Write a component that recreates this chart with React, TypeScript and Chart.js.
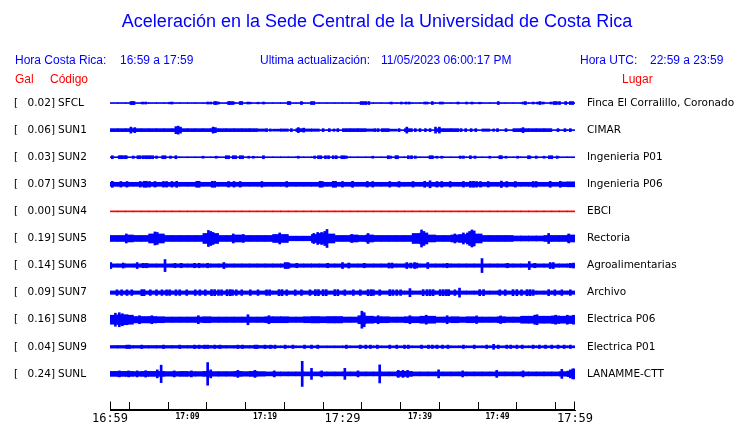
import React, { useEffect, useRef } from "react";
import { Chart, registerables } from "chart.js";
Chart.register(...registerables);

const TITLE = "Aceleración en la Sede Central de la Universidad de Costa Rica";
const HORA_CR = ["Hora Costa Rica:", "16:59 a 17:59"];
const ACTUALIZ = ["Ultima actualización:", "11/05/2023 06:00:17 PM"];
const HORA_UTC = ["Hora UTC:", "22:59 a 23:59"];
const COL_HEADS = ["Gal", "Código", "Lugar"];

const CODES = ["SFCL", "SUN1", "SUN2", "SUN3", "SUN4", "SUN5", "SUN6", "SUN7", "SUN8", "SUN9", "SUNL"];
const GAL = [0.02, 0.06, 0.03, 0.07, 0.0, 0.19, 0.14, 0.09, 0.16, 0.04, 0.24];
const PLACES = [
  "Finca El Corralillo, Coronado", "CIMAR", "Ingenieria P01", "Ingenieria P06", "EBCI",
  "Rectoria", "Agroalimentarias", "Archivo", "Electrica P06", "Electrica P01", "LANAMME-CTT",
];
const TRACE_COLORS = ["#0000ff", "#0000ff", "#0000ff", "#0000ff", "#ff0000", "#0000ff", "#0000ff", "#0000ff", "#0000ff", "#0000ff", "#0000ff"];

// time axis (minutes after 16:59)
const TIME_TICKS = [0, 5, 10, 15, 20, 25, 30, 35, 40, 45, 50, 55, 60];
const TIME_LABELS: Record<number, string> = { 0: "16:59", 10: "17:09", 20: "17:19", 30: "17:29", 40: "17:39", 50: "17:49", 60: "17:59" };
const BIG_LABELS = [0, 30, 60];

// per-minute envelope half-amplitudes (trace units) and isolated peaks [minute, half-amplitude]
const SFCL_ENV = [0.5,0.5,0.5,0.5,0.5,0.5,0.5,0.5,0.5,0.5,0.5,0.5,0.5,0.5,0.5,0.5,0.5,0.5,0.5,0.5,0.5,0.5,0.5,0.5,0.5,0.5,0.5,0.5,0.5,0.5,0.5,0.5,0.5,0.5,0.5,0.5,0.5,0.5,0.5,0.5,0.5,0.5,0.5,0.5,0.5,0.5,0.5,0.5,0.5,0.5,0.5,0.5,0.5,0.5,0.5,0.5,0.5,0.5,0.5,0.5];
const SFCL_PK = [[2.7,1.5],[2.9,1.5],[3.1,1.5],[4.2,1],[4.6,1],[7.7,0.8],[8.0,1],[12.6,1],[13.0,1],[13.5,1.5],[13.7,1.5],[14.0,1],[15.3,1.5],[15.5,1.5],[15.8,1.5],[16.0,1],[16.8,1.5],[17.0,1.5],[17.8,1],[18.1,0.8],[19.1,0.8],[19.8,1],[23.0,1.5],[23.2,1.5],[24.7,1.5],[26.0,1.5],[26.3,1.5],[32.4,1.5],[32.7,1.5],[33.0,1.5],[33.4,1.5],[36.3,1],[37.6,1],[38.2,1],[38.6,1],[40.6,1],[40.9,1],[41.6,1.5],[42.6,1],[42.9,1],[44.9,1],[46.0,1],[46.7,1],[47.7,0.8],[50.1,1.5],[53.3,1],[53.6,1.5],[54.6,1],[55.2,1],[55.5,1.5],[55.9,1],[56.9,1],[57.3,1.5],[57.6,1.5],[58.0,1.5],[58.8,1.5],[59.4,1.5],[59.7,1.5]];

const SUN1_ENV = [1.5,1.5,1.5,1.5,1.5,1.5,1.5,1.5,1.5,1.5,1.5,1.5,1.5,1.5,1.5,1.5,1.5,1.5,1.5,1.2,0.5,1,1.2,0.5,1.5,1.2,1.2,0.5,0.5,0.5,1.5,1.5,1.5,1.2,0.5,1.5,1,0.5,1.5,0.5,0.5,0.5,1.5,1.5,1.5,0.5,0.5,0.5,1.2,0.5,0.5,0.5,1.5,1.5,1.5,1.5,1.5,0.5,0.5,0.5];
const SUN1_PK = [[2.7,3],[3.2,2.5],[8.5,3.5],[8.8,4],[9.1,3],[13.3,3],[13.6,2.5],[20.2,1.5],[20.7,1.2],[23.4,1.5],[24.3,2.5],[25.0,2],[27.5,1.5],[28.3,1.5],[28.9,1.2],[29.4,1.5],[34.2,1.5],[34.6,1.5],[37.3,1.5],[38.3,3],[39.4,1.5],[40.0,1.5],[40.7,1.5],[41.3,1.5],[42.0,3],[42.5,3],[45.3,1.5],[45.9,1.5],[46.6,1.5],[47.2,1.5],[49.5,1.2],[50.0,1.5],[51.1,1.5],[53.3,2.5],[57.8,1.5],[58.7,1.5],[59.4,1.5]];

const SUN2_ENV = [0.5,0.5,0.5,0.5,0.5,0.5,0.5,0.5,0.5,0.5,0.5,0.5,0.5,0.5,0.5,0.5,0.5,0.5,0.5,0.5,0.5,0.5,0.5,0.5,0.5,0.5,0.5,0.5,0.5,0.5,0.5,0.5,0.5,0.5,0.5,0.5,0.5,0.5,0.5,0.5,0.5,0.5,0.5,0.5,0.5,0.5,0.5,0.5,0.5,0.5,0.5,0.5,0.5,0.5,0.5,0.5,0.5,0.5,0.5,0.5];
const SUN2_PK = [[0.3,1.5],[1.2,1.5],[1.4,1.5],[1.6,1.5],[1.9,1.5],[2.1,1.5],[3.0,1.2],[3.6,1.5],[3.9,1.5],[4.3,1.5],[4.6,1.5],[4.9,1.5],[5.2,1.5],[5.5,1.5],[6.0,1.2],[6.8,1.5],[7.1,1.5],[7.8,1.2],[8.5,1.5],[12.0,1],[13.7,1],[15.0,1.5],[15.3,1.5],[15.9,1.5],[16.2,1.5],[16.8,1.5],[17.1,1.5],[17.9,1],[18.5,1],[19.8,1.5],[24.3,1],[26.4,1.2],[26.9,1.5],[27.2,1.5],[27.8,1.5],[28.2,1.5],[28.8,1.5],[29.2,1.5],[29.9,1.5],[30.2,1.5],[30.5,1.2],[33.9,1],[35.9,1.5],[36.2,1.2],[36.9,1.5],[37.1,1.5],[38.5,1.5],[38.9,1.5],[39.4,1.2],[41.3,1.5],[41.6,1.5],[42.2,1],[42.8,1],[45.2,1.2],[45.6,1.2],[46.5,1.5],[47.1,1.2],[49.0,1],[50.3,1.5],[50.5,1.5],[51.1,1],[52.6,1],[54.0,1.5],[54.2,1.2],[55.0,1.2],[56.0,1],[56.7,1.5],[57.0,1.5],[57.7,1.2]];

const SUN3_ENV = [2,2,2,2,2,2,2,2,2,2,2,2,2,2,2,2,2,2,2,2,2,2,2,2,2,2,2,2,2,2,2,2,2,2,2,2,2,2,2,2,2,2,2,2,2,2,2,2,2,2,2,2,2,2,2,2,2,2,2.3,2.5];
const SUN3_PK = [[0.3,3],[1.4,2.8],[2.2,2.8],[3.9,2.8],[4.4,3],[4.7,3],[5.1,2.8],[5.8,2.8],[6.9,2.8],[7.3,2.8],[8.0,2.8],[8.6,3],[11.2,3],[11.5,3],[13.2,3],[13.5,3],[15.3,2.8],[16.0,2.8],[16.8,2.8],[19.6,2.8],[22.8,2.8],[27.1,3],[27.4,2.8],[28.8,3],[29.1,3],[30.0,2.8],[31.3,3],[33.2,2.8],[33.9,2.8],[36.1,2.8],[37.3,2.8],[39.1,2.8],[40.6,3],[41.3,3.5],[42.2,2.8],[42.8,2.8],[43.9,2.8],[45.6,2.8],[46.5,3],[46.9,3],[47.3,2.8],[47.8,2.8],[48.8,2.8],[50.5,3.2],[51.2,2.8],[52.3,2.8],[54.6,2.8],[55.0,2.8],[56.8,3],[58.1,3]];

const SUN4_ENV = [0.5,0.5,0.5,0.5,0.5,0.5,0.5,0.5,0.5,0.5,0.5,0.5,0.5,0.5,0.5,0.5,0.5,0.5,0.5,0.5,0.5,0.5,0.5,0.5,0.5,0.5,0.5,0.5,0.5,0.5,0.5,0.5,0.5,0.5,0.5,0.5,0.5,0.5,0.5,0.5,0.5,0.5,0.5,0.5,0.5,0.5,0.5,0.5,0.5,0.5,0.5,0.5,0.5,0.5,0.5,0.5,0.5,0.5,0.5,0.5];
const SUN4_PK: number[][] = [];

const SUN5_ENV = [3,3,3.5,3,3,4.5,4.5,3,3,3,3,3,5,5,3,3,3.5,3,3,3,3,4,4,2.3,2.3,2.3,4,5,4.5,3,3,3.5,3,3.5,3,3,3,3,3,5,5.5,3.5,3,3,3.5,4,5.5,4.5,3,3,3,3,2.5,2.5,2.5,2.5,3,3,3,3.5];
const SUN5_PK = [[2.1,4.5],[5.8,6.5],[6.1,6],[12.7,8],[13.0,7],[13.3,6],[15.9,4.5],[17.2,4],[21.9,5.5],[26.3,5],[26.8,6],[27.3,6],[27.7,7],[28.0,9],[31.2,4],[33.3,5],[40.2,8.5],[40.5,7],[44.5,4.5],[45.6,5.5],[46.4,7],[46.7,8.5],[47.0,7.5],[56.6,5],[59.2,4.5]];

const SUN6_ENV = [1.7,1.7,1.7,1.7,1.7,1.7,1.7,1.7,1.7,1.7,1.7,1.7,1.7,1.7,1.7,1.7,1.7,1.7,1.7,1.7,1.7,1.7,1.7,1.7,1.7,1.7,1.7,1.7,1.7,1.7,1.7,1.7,1.7,1.7,1.7,1.7,1.7,1.7,1.7,1.7,1.7,1.7,1.7,1.7,1.7,1.7,1.7,1.7,1.7,1.7,1.7,1.7,1.7,1.7,1.7,1.7,1.7,1.7,1.7,1.7];
const SUN6_PK = [[0.1,3],[1.7,2.5],[3.5,3],[4.3,2.2],[4.7,2.2],[7.1,6],[8.4,2.2],[9.2,2.2],[10.9,2.2],[11.5,2.2],[12.6,2.2],[14.7,3],[22.6,3],[22.9,3],[23.1,2.5],[24.1,2.2],[28.1,2.2],[30.0,3],[30.8,2.5],[32.8,2.2],[36.0,2.5],[36.4,2.5],[38.3,3],[38.8,2.5],[39.3,3],[39.6,2.5],[41.0,3],[43.5,2.2],[48.0,7],[51.3,2.2],[54.1,4],[54.8,2.2],[56.8,3],[57.2,3],[59.4,2.2],[59.8,2.5]];

const SUN7_ENV = [1.7,1.7,1.7,1.7,1.7,1.7,1.7,1.7,1.7,1.7,1.7,1.7,1.7,1.7,1.7,1.7,1.7,1.7,1.7,1.7,1.7,1.7,1.7,1.7,1.7,1.7,1.7,1.7,1.7,1.7,1.7,1.7,1.7,1.7,1.7,1.7,1.7,1.7,1.7,1.7,1.7,1.7,1.7,1.7,1.7,1.7,1.7,1.7,1.7,1.7,1.7,1.7,1.7,1.7,1.7,1.7,1.7,1.7,1.7,1.7];
const SUN7_PK = [[0.9,2.8],[1.5,2.8],[2.2,2.8],[2.8,2.8],[4.1,3],[4.4,3],[5.2,2.8],[6.0,2.8],[6.7,2.8],[7.3,2.8],[7.7,2.8],[8.5,2.8],[9.0,2.8],[9.9,2.8],[11.0,2.8],[11.6,2.8],[12.3,2.8],[13.1,3],[13.5,3],[14.0,2.8],[14.4,2.8],[15.1,3],[15.5,3],[15.8,2.8],[16.3,2.8],[17.0,2.8],[18.1,2.8],[19.1,2.8],[20.2,2.8],[20.6,2.8],[21.8,3],[22.2,3],[22.8,2.8],[23.9,2.8],[24.7,2.8],[25.8,2.8],[26.5,3],[26.9,3],[27.5,3],[27.9,3],[29.0,3],[29.4,3],[30.3,2.8],[31.4,2.8],[32.3,2.8],[33.3,3],[33.7,3],[34.0,2.8],[34.8,2.8],[36.1,3],[36.5,2.8],[37.0,2.8],[37.5,2.8],[38.7,4],[40.4,3],[40.9,3],[41.3,3],[41.7,3],[42.6,3],[43.0,3],[43.4,3],[43.7,3],[44.5,2.8],[45.1,4.5],[47.7,3],[48.2,3],[50.3,2.8],[51.0,2.8],[52.0,3],[52.5,3],[53.1,2.8],[53.8,3],[54.2,3],[54.6,2.8],[56.6,3],[57.4,2.8],[58.3,2.8],[59.4,2.8]];

const SUN8_ENV = [4.5,5,4.5,3.2,3.2,3.2,3,2.7,2.7,2.7,2.7,2.7,3,2.7,2.7,2.7,2.7,2.7,2.7,2.7,3,3,3,2.7,2.7,3,3.2,3,3.2,3.2,2.7,2.7,4,3.5,3,3,2.7,2.7,3,3,3.5,3.5,2.7,2.7,3,2.7,3,2.7,2.7,2.7,3,2.7,2.7,3.5,3.5,3.5,3.5,3.8,3.5,3.8];
const SUN8_PK = [[0.7,6.5],[1.2,7],[1.6,6],[2.2,5],[3.8,4],[5.4,4],[11.4,4],[17.8,5],[20.5,4],[32.5,8.5],[32.8,7],[34.6,4],[38.7,4],[40.8,4.5],[43.5,4],[47.3,3.8],[50.4,3.8],[54.8,4.5],[55.1,5],[57.5,4.5],[59.0,4.5],[59.8,4.5]];

const SUN9_ENV = [1.3,1.3,1.3,1.3,1.3,1.3,1.3,1.3,1.3,1.3,1.3,1.3,1.3,1.3,1.3,1.3,1.3,1.3,1.3,1.3,1.3,1,1,1,1,1,1,1,1,1,1,1,1,1,1,1,1,1,1,1,1,1,1,1,1,1,1,1,1,1,1,1,1,1,1,1,1,1,1,1];
const SUN9_PK = [[2.2,1.7],[2.5,1.7],[4.1,1.7],[6.9,1.7],[9.0,1.7],[10.9,1.7],[11.5,1.7],[12.2,1.7],[12.6,1.7],[13.5,1.7],[14.2,1.7],[16.5,1.7],[17.1,1.7],[18.7,1.7],[19.0,1.7],[20.0,1.7],[20.7,1.7],[21.3,1.7],[22.6,1.7],[23.6,1.7],[25.1,1.7],[26.0,1.7],[26.8,1.7],[30.5,1.7],[32.3,1.7],[33.0,1.7],[33.6,1.7],[34.5,1.7],[36.1,1.7],[37.0,1.7],[38.0,1.7],[38.5,1.7],[40.2,1.7],[41.1,1.7],[41.6,1.7],[42.2,1.7],[42.9,1.7],[43.6,1.7],[45.6,1.7],[47.0,1.7],[48.6,1.7],[49.5,2.5],[50.1,1.7],[51.2,1.7],[51.7,1.7],[52.5,1.7],[53.2,1.7],[54.6,1.7],[55.4,1.7],[56.2,1.7],[57.0,1.7],[57.8,1.7],[58.6,1.7],[59.4,1.7]];

const SUNL_ENV = [2.5,2.5,2.5,2.3,2.5,2.5,2.5,2.3,2.3,2.5,2.3,2.3,2.5,2.3,2.3,2.3,2.5,2.3,2.5,2.3,2,2,2,2,2,2,2,2,2,2,2,2,2,2,2,2,2,2.5,2.5,2,2,2,2,2,2,2,2,2,2,2,2,2,2,2,2,2,2,2,2.3,2.8];
const SUNL_PK = [[1.2,3],[2.4,3],[3.5,3],[4.6,3.2],[6.1,4],[6.6,8.7],[8.3,3],[10.5,3],[12.6,11.3],[13.0,4],[16.5,3.5],[18.7,3.5],[21.2,3],[24.8,12.5],[26.0,5.5],[27.3,3],[30.3,5.5],[32.0,3],[34.8,9],[37.2,3.5],[37.8,3.5],[38.4,3.5],[42.4,4],[45.5,3],[49.9,3.5],[53.3,3],[58.3,4.5],[59.4,4],[59.7,5],[59.9,5]];

const ENVELOPES = [SFCL_ENV, SUN1_ENV, SUN2_ENV, SUN3_ENV, SUN4_ENV, SUN5_ENV, SUN6_ENV, SUN7_ENV, SUN8_ENV, SUN9_ENV, SUNL_ENV];
const PEAKS = [SFCL_PK, SUN1_PK, SUN2_PK, SUN3_PK, SUN4_PK, SUN5_PK, SUN6_PK, SUN7_PK, SUN8_PK, SUN9_PK, SUNL_PK];

const AMP_UNIT = 1 / 27; // one trace unit as a fraction of the station spacing
const Y_MIN = -0.3333;
const Y_MAX = 11.4815;

const SANS = "'Liberation Sans', Arial, sans-serif";
const DJV = "'DejaVu Sans', sans-serif";
const MONO = "'DejaVu Sans Mono', monospace";

const textPlugin = {
  id: "seismoText",
  afterDraw(chart: any) {
    const ctx = chart.ctx as CanvasRenderingContext2D;
    const y = chart.scales.y;
    const x = chart.scales.x;
    ctx.save();
    // time axis base line and the two end ticks
    const by = Math.round(chart.chartArea.bottom) - 0.5;
    const x0 = Math.round(x.getPixelForValue(0)) + 0.5;
    const x1 = Math.round(x.getPixelForValue(60)) - 0.5;
    ctx.strokeStyle = "#000000";
    ctx.lineWidth = 1;
    ctx.beginPath();
    ctx.moveTo(x0 - 0.5, by);
    ctx.lineTo(x1 + 0.5, by);
    ctx.moveTo(x0, by);
    ctx.lineTo(x0, by - 8);
    ctx.moveTo(x1, by);
    ctx.lineTo(x1, by - 8);
    ctx.stroke();

    ctx.textBaseline = "middle";
    ctx.fillStyle = "#0000ff";
    ctx.font = `18px ${SANS}`;
    ctx.textAlign = "center";
    ctx.fillText(TITLE, 377, 22);
    ctx.textAlign = "left";
    ctx.font = `12px ${SANS}`;
    ctx.fillText(HORA_CR[0], 15, 61);
    ctx.fillText(HORA_CR[1], 120, 61);
    ctx.fillText(ACTUALIZ[0], 260, 61);
    ctx.fillText(ACTUALIZ[1], 381, 61);
    ctx.fillText(HORA_UTC[0], 580, 61);
    ctx.fillText(HORA_UTC[1], 650, 61);
    ctx.fillStyle = "#ff0000";
    ctx.fillText(COL_HEADS[0], 15, 80);
    ctx.fillText(COL_HEADS[1], 50, 80);
    ctx.fillText(COL_HEADS[2], 622, 80);
    ctx.fillStyle = "#000000";
    ctx.font = `10.5px ${DJV}`;
    CODES.forEach((code, k) => {
      const py = y.getPixelForValue(11 - k);
      ctx.textAlign = "left";
      ctx.fillText("[", 14, py);
      ctx.textAlign = "right";
      ctx.fillText(GAL[k].toFixed(2) + "]", 55, py);
      ctx.textAlign = "left";
      ctx.fillText(code, 58, py);
      ctx.fillText(PLACES[k], 587, py);
    });
    ctx.restore();
  },
};

export default function App() {
  const ref = useRef<HTMLCanvasElement>(null);
  useEffect(() => {
    document.body.style.margin = "0";
    const datasets: any[] = [];
    CODES.forEach((code, k) => {
      const c = 11 - k;
      datasets.push({
        label: code,
        stack: "all",
        data: ENVELOPES[k].map((a, i) => ({ x: i + 0.5, y: [c - a * AMP_UNIT, c + a * AMP_UNIT] })),
        backgroundColor: TRACE_COLORS[k],
        barThickness: 8,
      });
      datasets.push({
        label: code + " picos",
        stack: "all",
        data: PEAKS[k].map(([m, a]) => ({ x: m, y: [c - a * AMP_UNIT, c + a * AMP_UNIT] })),
        backgroundColor: TRACE_COLORS[k],
        barThickness: 2,
      });
    });
    const chart = new Chart(ref.current as HTMLCanvasElement, {
      type: "bar",
      data: { datasets },
      options: {
        animation: false,
        responsive: false,
        maintainAspectRatio: false,
        devicePixelRatio: 1,
        events: [],
        layout: { padding: { left: 110, right: 165, top: 90, bottom: -13 } },
        plugins: { legend: { display: false }, tooltip: { enabled: false }, title: { display: false } },
        scales: {
          x: {
            type: "linear",
            min: 0,
            max: 60,
            offset: false,
            afterBuildTicks: (scale: any) => {
              scale.ticks = TIME_TICKS.map((v) => ({ value: v }));
            },
            ticks: {
              autoSkip: false,
              maxRotation: 0,
              padding: 11,
              color: "#000000",
              callback: (v: any) => TIME_LABELS[v as number] ?? "",
              font: (ctx: any) =>
                BIG_LABELS.includes(ctx.tick?.value)
                  ? { family: MONO, size: 12, lineHeight: 1 }
                  : { family: MONO, size: 8, weight: "bold", lineHeight: 1 },
            },
            grid: { drawOnChartArea: false, tickLength: -8, color: "#000000", tickColor: "#000000" },
            border: { display: true, color: "#000000", width: 1 },
          },
          y: { type: "linear", min: Y_MIN, max: Y_MAX, stacked: false, display: false },
        },
      },
      plugins: [textPlugin],
    } as any);
    return () => chart.destroy();
  }, []);
  return (
    <div style={{ width: 740, height: 423 }}>
      <canvas ref={ref} width={740} height={423} style={{ display: "block" }} />
    </div>
  );
}
